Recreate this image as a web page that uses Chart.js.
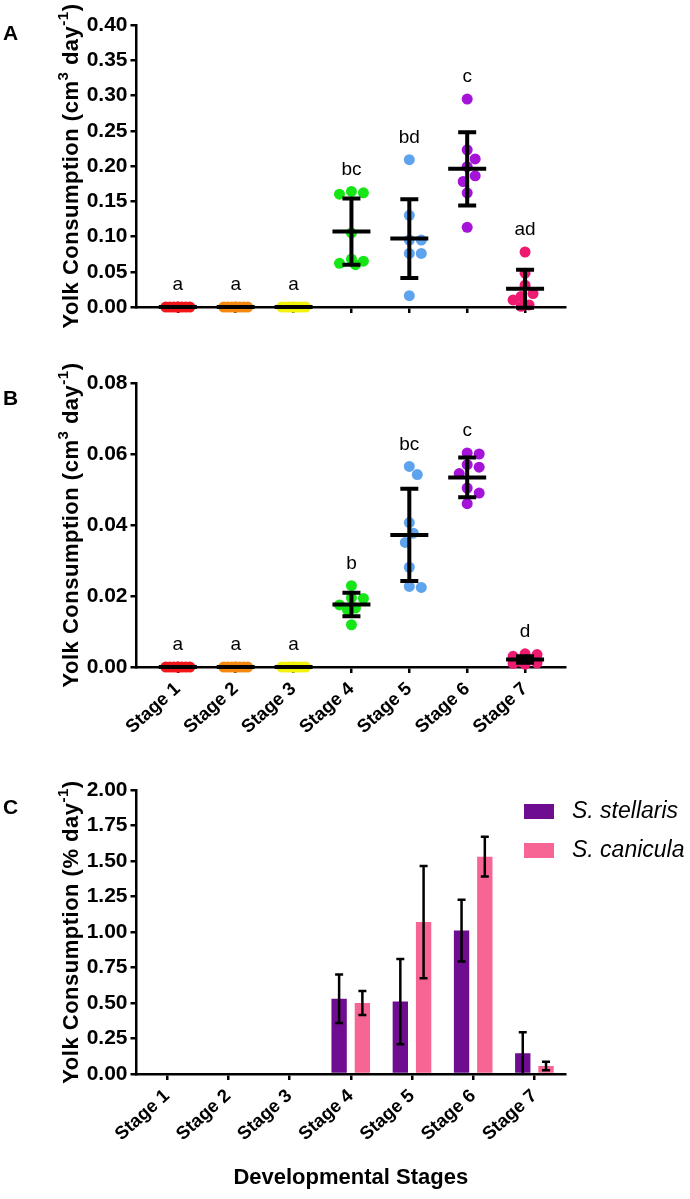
<!DOCTYPE html>
<html lang="en">
<head>
<meta charset="UTF-8">
<title>Yolk consumption</title>
<script src="https://cdn.jsdelivr.net/npm/chart.js@4.4.1/dist/chart.umd.min.js"></script>
<style>
  body { margin: 0; background: #fff; }
  .wrap { position: relative; width: 690px; height: 1199px; overflow: hidden; }
  .box { position: absolute; left: 0; width: 690px; }
  .tag { position: absolute; left: 3px; font: bold 21px 'Liberation Sans', Arial, sans-serif; color: #000; }
</style>
</head>
<body>
<div class="wrap">
  <div class="box" style="top:0"><canvas id="chartA" width="690" height="330"></canvas></div>
  <div class="box" style="top:330px"><canvas id="chartB" width="690" height="430"></canvas></div>
  <div class="box" style="top:760px"><canvas id="chartC" width="690" height="439"></canvas></div>
  <div class="tag" style="top:21px">A</div>
  <div class="tag" style="top:386px">B</div>
  <div class="tag" style="top:795px">C</div>
</div>
<script>
// categories
var stages = ['Stage 1', 'Stage 2', 'Stage 3', 'Stage 4', 'Stage 5', 'Stage 6', 'Stage 7'];

// panel A : individual values (cm3 day-1)
var volA = [
  [0, 0, 0, 0, 0, 0, 0, 0],
  [0, 0, 0, 0, 0, 0, 0, 0],
  [0, 0, 0, 0, 0, 0, 0, 0],
  [0.164, 0.162, 0.160, 0.105, 0.068, 0.065, 0.062, 0.060],
  [0.209, 0.130, 0.095, 0.095, 0.076, 0.076, 0.016],
  [0.295, 0.223, 0.210, 0.199, 0.186, 0.178, 0.162, 0.113],
  [0.078, 0.048, 0.031, 0.019, 0.015, 0.010, 0.003, 0.001]
];
var meanA = [0, 0, 0, 0.107, 0.097, 0.196, 0.026];
var sdA = [0, 0, 0, 0.047, 0.056, 0.052, 0.027];
var lettersA = ['a', 'a', 'a', 'bc', 'bd', 'c', 'ad'];
var ticksA = [0, 0.05, 0.10, 0.15, 0.20, 0.25, 0.30, 0.35, 0.40];

// panel B : individual values (cm3 day-1)
var volB = [
  [0, 0, 0, 0, 0, 0, 0, 0],
  [0, 0, 0, 0, 0, 0, 0, 0],
  [0, 0, 0, 0, 0, 0, 0, 0],
  [0.0229, 0.0195, 0.0193, 0.0175, 0.0166, 0.0161, 0.0119],
  [0.0565, 0.0542, 0.0407, 0.0377, 0.0351, 0.0281, 0.0227, 0.0224],
  [0.0603, 0.0600, 0.0570, 0.0563, 0.0545, 0.0504, 0.0490, 0.0460],
  [0.0037, 0.0035, 0.0030, 0.0021, 0.0015, 0.0012, 0.0010, 0.0008]
];
var meanB = [0, 0, 0, 0.0176, 0.0372, 0.0534, 0.0021];
var sdB = [0, 0, 0, 0.0033, 0.0130, 0.0056, 0.0009];
var lettersB = ['a', 'a', 'a', 'b', 'bc', 'c', 'd'];
var ticksB = [0, 0.02, 0.04, 0.06, 0.08];

// panel C : mean +- error (% day-1)
var pctStellaris = [null, null, null, 0.53, 0.51, 1.01, 0.146];
var errStellaris = [null, null, null, 0.17, 0.30, 0.217, 0.148];
var pctCanicula = [null, null, null, 0.50, 1.07, 1.53, 0.056];
var errCanicula = [null, null, null, 0.085, 0.395, 0.14, 0.03];
var ticksC = [0, 0.25, 0.5, 0.75, 1.0, 1.25, 1.5, 1.75, 2.0];

var stageColors = ['#f2161a', '#f7880f', '#f2f20a', '#16e616', '#5ea3ee', '#a513d8', '#ee1a70'];
var FONT = "'Liberation Sans', Arial, sans-serif";
Chart.defaults.font.family = FONT;
Chart.defaults.color = '#000';

// simple beeswarm: spread points sideways so dots don't overlap too much
function swarm(vals, stage, pxPerUnit) {
  var dotPx = 11, stepPx = 4, pxPerStage = 58;
  var cands = [0, 1, -1, 2, -2, 3, -3];
  var placed = [], out = [];
  var order = vals.map(function(v, i) { return i; }).sort(function(a, b) { return vals[b] - vals[a]; });
  order.forEach(function(i) {
    var y = vals[i] * pxPerUnit, pick = 0, best = -1;
    for (var c = 0; c < cands.length; c++) {
      var x = cands[c] * stepPx, gap = Infinity;
      placed.forEach(function(p) { gap = Math.min(gap, Math.hypot(p.x - x, p.y - y)); });
      if (gap >= dotPx) { pick = x; break; }
      if (gap > best) { best = gap; pick = x; }
    }
    placed.push({ x: pick, y: y });
    out.push({ x: stage + pick / pxPerStage, y: vals[i] });
  });
  return out;
}

function drawYTitle(chart, parts) {
  var ctx = chart.ctx, a = chart.chartArea;
  var big = 'bold 22px ' + FONT, small = 'bold 15px ' + FONT;
  ctx.save();
  ctx.letterSpacing = '0.5px';
  var total = 0;
  parts.forEach(function(p) { ctx.font = p.sup ? small : big; total += ctx.measureText(p.t).width; });
  ctx.translate(78, (a.top + a.bottom) / 2);
  ctx.rotate(-Math.PI / 2);
  ctx.fillStyle = '#000';
  ctx.textBaseline = 'alphabetic';
  ctx.textAlign = 'left';
  var x = -total / 2;
  parts.forEach(function(p) {
    ctx.font = p.sup ? small : big;
    ctx.fillText(p.t, x, p.sup ? -10 : 0);
    x += ctx.measureText(p.t).width;
  });
  ctx.restore();
}

var volTitle = [{ t: 'Yolk Consumption (cm' }, { t: '3', sup: true }, { t: ' day' }, { t: '-1', sup: true }, { t: ')' }];
var pctTitle = [{ t: 'Yolk Consumption (% day' }, { t: '-1', sup: true }, { t: ')' }];

// mean, SD bars and letters on top of the dot plots
var dotExtras = {
  id: 'dotExtras',
  afterDatasetsDraw: function(chart, args, o) {
    var ctx = chart.ctx, xs = chart.scales.x, ys = chart.scales.y;
    ctx.save();
    ctx.strokeStyle = '#000';
    ctx.lineWidth = 4;
    o.means.forEach(function(m, i) {
      var cx = xs.getPixelForValue(i + 1);
      var ym = ys.getPixelForValue(m);
      if (o.sds[i] > 0) {
        var yt = ys.getPixelForValue(m + o.sds[i]), yb = ys.getPixelForValue(m - o.sds[i]);
        ctx.beginPath();
        ctx.moveTo(cx, yt); ctx.lineTo(cx, yb);
        ctx.moveTo(cx - 9, yt); ctx.lineTo(cx + 9, yt);
        ctx.moveTo(cx - 9, yb); ctx.lineTo(cx + 9, yb);
        ctx.stroke();
      }
      ctx.beginPath();
      ctx.moveTo(cx - 19, ym); ctx.lineTo(cx + 19, ym);
      ctx.stroke();
      var top = ys.getPixelForValue(Math.max.apply(null, o.points[i]));
      ctx.fillStyle = '#000';
      ctx.font = '19px ' + FONT;
      ctx.textAlign = 'center';
      ctx.textBaseline = 'middle';
      ctx.fillText(o.letters[i], cx, top - 22);
    });
    ctx.restore();
    drawYTitle(chart, o.title);
  }
};

function dotChart(id, vals, means, sds, letters, yTicks, showLabels, padTop, xHeight) {
  var yMax = yTicks[yTicks.length - 1];
  var sets = vals.map(function(v, i) {
    return {
      data: swarm(v, i + 1, 283 / yMax),
      backgroundColor: stageColors[i],
      borderWidth: 0,
      pointRadius: 5.5,
      pointHoverRadius: 5.5,
      clip: false
    };
  });
  return new Chart(document.getElementById(id), {
    type: 'scatter',
    data: { datasets: sets },
    plugins: [dotExtras],
    options: {
      responsive: false,
      animation: false,
      events: [],
      layout: { padding: { top: padTop, right: 125, left: 0, bottom: 0 } },
      plugins: {
        legend: { display: false },
        tooltip: { enabled: false },
        dotExtras: { means: means, sds: sds, letters: letters, points: vals, title: volTitle }
      },
      scales: {
        x: {
          type: 'linear', min: 0.286, max: 7.69,
          afterBuildTicks: function(s) { s.ticks = stages.map(function(n, i) { return { value: i + 1 }; }); },
          afterFit: function(s) { s.height = xHeight; },
          grid: { drawOnChartArea: false, color: '#000', lineWidth: 2.5, tickLength: 6 },
          border: { color: '#000', width: 2.5 },
          ticks: {
            display: showLabels, autoSkip: false, minRotation: 42, maxRotation: 42, padding: 5,
            font: { size: 18.5, weight: 'bold' },
            callback: function(v) { return stages[v - 1]; }
          }
        },
        y: {
          min: 0, max: yMax,
          afterBuildTicks: function(s) { s.ticks = yTicks.map(function(v) { return { value: v }; }); },
          afterFit: function(s) { s.width = 136.5; },
          grid: { drawOnChartArea: false, color: '#000', lineWidth: 2.5, tickLength: 6 },
          border: { color: '#000', width: 2.5 },
          ticks: {
            padding: 3,
            font: { size: 21, weight: 'bold' },
            callback: function(v) { return v.toFixed(2); }
          }
        }
      }
    }
  });
}

dotChart('chartA', volA, meanA, sdA, lettersA, ticksA, false, 25, 23);
dotChart('chartB', volB, meanB, sdB, lettersB, ticksB, true, 53, 93);

// error bars + legend for bar panel
var barExtras = {
  id: 'barExtras',
  afterDatasetsDraw: function(chart, args, o) {
    var ctx = chart.ctx, ys = chart.scales.y;
    ctx.save();
    ctx.strokeStyle = '#000';
    ctx.lineWidth = 2.5;
    chart.data.datasets.forEach(function(ds, d) {
      var meta = chart.getDatasetMeta(d);
      ds.data.forEach(function(v, i) {
        if (v === null) return;
        var e = o.errors[d][i], cx = meta.data[i].x;
        var yt = ys.getPixelForValue(v + e), yb = ys.getPixelForValue(Math.max(v - e, 0));
        ctx.beginPath();
        ctx.moveTo(cx, yt); ctx.lineTo(cx, yb);
        ctx.moveTo(cx - 4, yt); ctx.lineTo(cx + 4, yt);
        if (v - e > 0) { ctx.moveTo(cx - 4, yb); ctx.lineTo(cx + 4, yb); }
        ctx.stroke();
      });
      // legend
      var ly = 44 + d * 39;
      ctx.fillStyle = ds.backgroundColor;
      ctx.fillRect(524, ly, 30, 15);
      ctx.fillStyle = '#000';
      ctx.font = 'italic 23px ' + FONT;
      ctx.textAlign = 'left';
      ctx.textBaseline = 'middle';
      ctx.fillText(ds.label, 572, ly + 8);
    });
    ctx.restore();
    drawYTitle(chart, pctTitle);
  }
};

new Chart(document.getElementById('chartC'), {
  type: 'bar',
  data: {
    labels: stages,
    datasets: [
      { label: 'S. stellaris', data: pctStellaris, backgroundColor: '#6f0d90', categoryPercentage: 0.76, barPercentage: 0.66 },
      { label: 'S. canicula', data: pctCanicula, backgroundColor: '#f76595', categoryPercentage: 0.76, barPercentage: 0.66 }
    ]
  },
  plugins: [barExtras],
  options: {
    responsive: false,
    animation: false,
    events: [],
    layout: { padding: { top: 30, right: 125, left: 0, bottom: 0 } },
    plugins: {
      legend: { display: false },
      tooltip: { enabled: false },
      barExtras: { errors: [errStellaris, errCanicula] }
    },
    scales: {
      x: {
        afterFit: function(s) { s.height = 125; },
        grid: { offset: false, drawOnChartArea: false, color: '#000', lineWidth: 2.5, tickLength: 6 },
        border: { color: '#000', width: 2.5 },
        ticks: { autoSkip: false, minRotation: 42, maxRotation: 42, padding: 5, font: { size: 18.5, weight: 'bold' } },
        title: { display: true, text: 'Developmental Stages', font: { size: 22, weight: 'bold' }, padding: { top: 6, bottom: 8 } }
      },
      y: {
        min: 0, max: 2,
        afterBuildTicks: function(s) { s.ticks = ticksC.map(function(v) { return { value: v }; }); },
        afterFit: function(s) { s.width = 136.5; },
        grid: { drawOnChartArea: false, color: '#000', lineWidth: 2.5, tickLength: 6 },
        border: { color: '#000', width: 2.5 },
        ticks: { padding: 3, font: { size: 21, weight: 'bold' }, callback: function(v) { return v.toFixed(2); } }
      }
    }
  }
});
</script>
</body>
</html>
